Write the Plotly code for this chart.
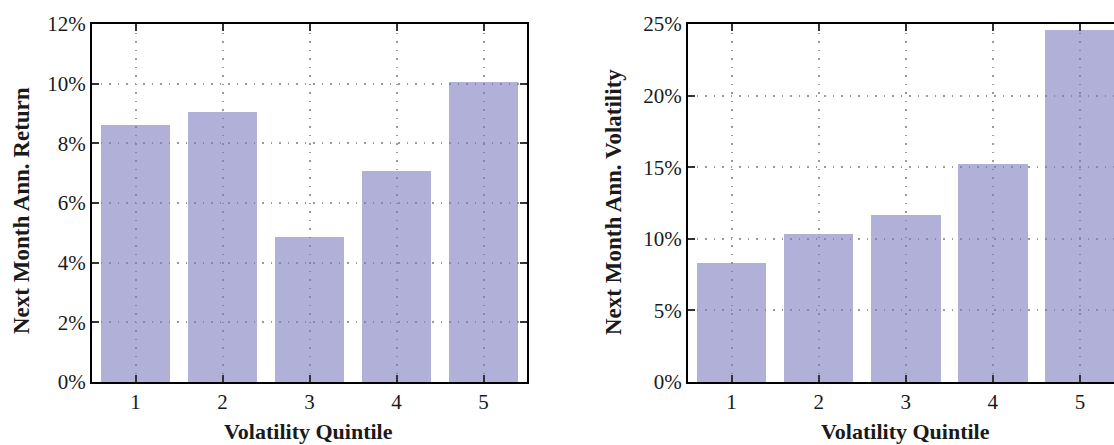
import plotly.graph_objects as go

# Quintile labels and next-month statistics per volatility quintile
quintiles = [1, 2, 3, 4, 5]
ann_return = [8.6, 9.05, 4.85, 7.07, 10.05]          # % next month annualised return
ann_volatility = [8.33, 10.33, 11.66, 15.22, 24.58]  # % next month annualised volatility

ret_ticks = [0, 2, 4, 6, 8, 10, 12]
vol_ticks = [0, 5, 10, 15, 20, 25]

W, H = 1114, 445
BAR = "rgba(125,123,190,0.6)"
SERIF = "Liberation Serif"
INK = "#1a1a1a"

fig = go.Figure()
fig.add_trace(go.Bar(x=quintiles, y=ann_return, width=0.8, marker=dict(color=BAR, line=dict(width=0)),
                     xaxis="x", yaxis="y", showlegend=False))
fig.add_trace(go.Bar(x=quintiles, y=ann_volatility, width=0.8, marker=dict(color=BAR, line=dict(width=0)),
                     xaxis="x2", yaxis="y2", showlegend=False))

y_dom = [1 - 382 / H, 1 - 24 / H]
px = lambda v: v / W

grid = dict(showgrid=True, gridcolor="#9a9a9a", griddash="1.5px,7px", gridwidth=1.5)
common_x = dict(tickmode="array", tickvals=quintiles, ticks="inside", ticklen=7, tickwidth=1.5,
                tickcolor="#333", showline=True, linecolor="black", linewidth=2,
                zeroline=False, tickfont=dict(family=SERIF, size=21, color=INK),
                fixedrange=True, automargin=False, **grid)
common_y = dict(ticks="inside", ticklen=7, tickwidth=1.5, tickcolor="#333",
                showline=True, linecolor="black", linewidth=2,
                zeroline=False, tickfont=dict(family=SERIF, size=21, color=INK),
                fixedrange=True, automargin=False, **grid)

# visible right panel is cut at the page edge, so its x range stops short of 5.5
right_end = 5.5 - (1123.5 - W) / 87.0

x_title_font = dict(family=SERIF, size=22, color=INK)
y_title_font = dict(family=SERIF, size=23, color=INK)

fig.update_layout(
    width=W, height=H, autosize=False, margin=dict(l=0, r=0, t=0, b=0, pad=0),
    paper_bgcolor="white", plot_bgcolor="white", bargap=0,
    xaxis=dict(domain=[px(92), px(527)], range=[0.5, 5.5], mirror="ticks", anchor="y", **common_x),
    yaxis=dict(domain=y_dom, range=[0, 12], tickvals=ret_ticks,
               ticktext=[f"{v}%" for v in ret_ticks], mirror="ticks", anchor="x", **common_y),
    xaxis2=dict(domain=[px(688), 1.0], range=[0.5, right_end], mirror="ticks", anchor="y2", **common_x),
    yaxis2=dict(domain=y_dom, range=[0, 25], tickvals=vol_ticks,
                ticktext=[f"{v}%" for v in vol_ticks], mirror=False, anchor="x2", **common_y),
    annotations=[
        dict(text="<b>Volatility Quintile</b>", x=px(308.5), y=0, xref="paper", yref="paper",
             showarrow=False, font=x_title_font, xanchor="center", yanchor="bottom", borderpad=0),
        dict(text="<b>Volatility Quintile</b>", x=px(905), y=0, xref="paper", yref="paper",
             showarrow=False, font=x_title_font, xanchor="center", yanchor="bottom", borderpad=0),
        dict(text="<b>Next Month Ann. Return</b>", x=px(21), y=1 - 211 / H, xref="paper", yref="paper",
             showarrow=False, textangle=-90, font=y_title_font, xanchor="center", yanchor="middle"),
        dict(text="<b>Next Month Ann. Volatility</b>", x=px(614), y=1 - 202 / H, xref="paper", yref="paper",
             showarrow=False, textangle=-90, font=y_title_font, xanchor="center", yanchor="middle"),
    ],
)

fig.write_html("out.html", config={"displayModeBar": False})
